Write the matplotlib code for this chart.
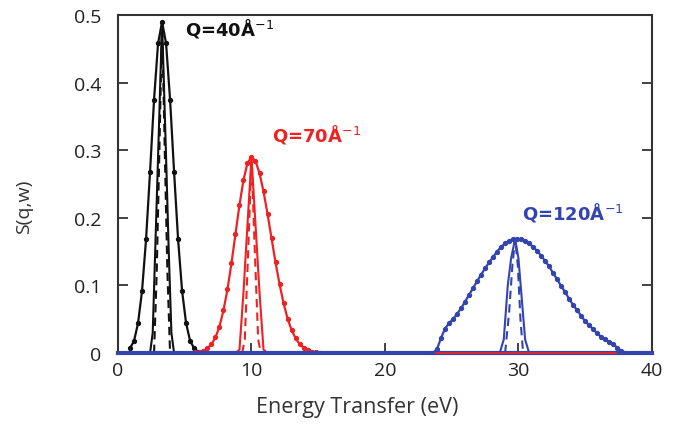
import numpy as np
import matplotlib.pyplot as plt

plt.rcParams.update({
    "font.family": ["Open Sans", "DejaVu Sans"],
    "font.size": 14,
})

BLACK, RED, BLUE = "#111111", "#ee2222", "#3344b0"

# --- Q = 40 A^-1 (black) ---
k_wide_x = [0.9, 1.2, 1.5, 1.8, 2.1, 2.4, 2.7, 3.0, 3.3, 3.6, 3.9, 4.2, 4.5, 4.8, 5.1, 5.4, 5.7, 6.0]
k_wide_y = [0.007, 0.018, 0.044, 0.092, 0.168, 0.268, 0.375, 0.458, 0.490,
            0.458, 0.375, 0.268, 0.168, 0.092, 0.044, 0.018, 0.007, 0.002]
k_narrow_x = [2.4, 2.6, 2.8, 3.0, 3.3, 3.6, 3.8, 4.0, 4.2]
k_narrow_y = [0.0, 0.03, 0.16, 0.29, 0.49, 0.29, 0.15, 0.03, 0.0]
k_dash_x = [2.7, 2.9, 3.1, 3.3, 3.5, 3.7, 3.9]
k_dash_y = [0.0, 0.12, 0.30, 0.49, 0.30, 0.12, 0.0]

# --- Q = 70 A^-1 (red) ---
r_wide_x = [5.8, 6.1, 6.4, 6.7, 7.0, 7.3, 7.6, 7.9, 8.2, 8.5, 8.8, 9.1, 9.4, 9.7, 10.0,
            10.3, 10.6, 10.9, 11.2, 11.5, 11.8, 12.1, 12.4, 12.7, 13.0, 13.3, 13.6,
            13.9, 14.2, 14.5, 14.8, 15.1]
r_wide_y = [0.001, 0.002, 0.003, 0.007, 0.013, 0.023, 0.039, 0.063, 0.094, 0.133,
            0.176, 0.219, 0.256, 0.281, 0.290, 0.284, 0.266, 0.239, 0.206, 0.170,
            0.134, 0.102, 0.074, 0.051, 0.034, 0.022, 0.013, 0.008, 0.004, 0.002,
            0.001, 0.0]
r_narrow_x = [8.8, 9.1, 9.4, 9.7, 10.0, 10.3, 10.6, 10.9, 11.2]
r_narrow_y = [0.0, 0.005, 0.09, 0.19, 0.29, 0.19, 0.09, 0.005, 0.0]
r_dash_x = [9.3, 9.5, 9.75, 10.0, 10.25, 10.5, 10.7]
r_dash_y = [0.0, 0.02, 0.15, 0.29, 0.15, 0.02, 0.0]
r_base_x = [23.8, 37.3]
r_base_y = [0.0, 0.0]

# --- Q = 120 A^-1 (blue) ---
b_wide_x = [23.6, 23.9, 24.2, 24.5, 24.8, 25.1, 25.4, 25.7, 26.0, 26.3, 26.6, 26.9,
            27.2, 27.5, 27.8, 28.1, 28.4, 28.7, 29.0, 29.3, 29.6, 29.9, 30.2, 30.5,
            30.8, 31.1, 31.4, 31.7, 32.0, 32.3, 32.6, 32.9, 33.2, 33.5, 33.8, 34.1,
            34.4, 34.7, 35.0, 35.3, 35.6, 35.9, 36.2, 36.5, 36.8, 37.1, 37.4, 37.7, 38.0]
b_wide_y = [0.0, 0.006, 0.022, 0.036, 0.044, 0.050, 0.058, 0.066, 0.076, 0.086,
            0.096, 0.106, 0.116, 0.125, 0.134, 0.142, 0.150, 0.157, 0.162, 0.166,
            0.168, 0.169, 0.168, 0.166, 0.162, 0.157, 0.151, 0.144, 0.136, 0.128,
            0.118, 0.109, 0.099, 0.090, 0.080, 0.071, 0.063, 0.055, 0.047, 0.041,
            0.035, 0.029, 0.024, 0.020, 0.016, 0.013, 0.008, 0.003, 0.0]
b_narrow_x = [28.6, 28.9, 29.2, 29.45, 29.75, 30.0, 30.25, 30.5, 30.8]
b_narrow_y = [0.0, 0.02, 0.10, 0.14, 0.169, 0.14, 0.08, 0.02, 0.0]
b_dash_x = [29.0, 29.3, 29.55, 29.75, 29.95, 30.15, 30.35]
b_dash_y = [0.0, 0.06, 0.13, 0.169, 0.13, 0.05, 0.0]
b_base_x = [0.0, 40.0]
b_base_y = [0.0, 0.0]

x_ticks = [0, 10, 20, 30, 40]
y_ticks = [0, 0.1, 0.2, 0.3, 0.4, 0.5]
y_ticklabels = ["0", "0.1", "0.2", "0.3", "0.4", "0.5"]

fig = plt.figure(figsize=(6.81, 4.27), dpi=100)
ax = fig.add_axes([0.1733, 0.171, 0.784, 0.7915])

ax.plot(b_base_x, b_base_y, "-", color=BLUE, lw=3, clip_on=False, zorder=5)
ax.plot(r_base_x, r_base_y, "-", color=RED, lw=1.3, clip_on=False, zorder=6)

for col, wx, wy, nx, ny, dx, dy in [
    (BLACK, k_wide_x, k_wide_y, k_narrow_x, k_narrow_y, k_dash_x, k_dash_y),
    (RED, r_wide_x, r_wide_y, r_narrow_x, r_narrow_y, r_dash_x, r_dash_y),
    (BLUE, b_wide_x, b_wide_y, b_narrow_x, b_narrow_y, b_dash_x, b_dash_y),
]:
    ax.plot(wx, wy, "-o", color=col, lw=1.6, ms=2.8)
    ax.plot(nx, ny, "-", color=col, lw=1.5)
    ax.plot(dx, dy, "--", color=col, lw=1.5, dashes=(4, 2.5))

qfont = dict(fontsize=13, fontweight="bold", family="DejaVu Sans", va="center")
ax.text(5.0, 0.482, "Q=40Å$^{-1}$", color=BLACK, **qfont)
ax.text(11.5, 0.324, "Q=70Å$^{-1}$", color=RED, **qfont)
ax.text(30.3, 0.209, "Q=120Å$^{-1}$", color=BLUE, **qfont)

ax.set_xlim(0, 40)
ax.set_ylim(0, 0.5)
ax.set_xticks(x_ticks)
ax.set_yticks(y_ticks)
ax.set_yticklabels(y_ticklabels)
ax.tick_params(direction="in", length=7, width=1.2, right=True, colors="#222222",
               labelsize=14)
ax.tick_params(axis="y", pad=12)
ax.tick_params(axis="x", pad=6)
for s in ax.spines.values():
    s.set_linewidth(1.5)
    s.set_color("#333333")

ax.set_xlabel("Energy Transfer (eV)", fontsize=15.5, color="#333333")
ax.xaxis.set_label_coords(0.448, -0.126)
ax.set_ylabel("S(q,w)", fontsize=14, color="#333333")
ax.yaxis.set_label_coords(-0.159, 0.435)

fig.savefig("out.png", dpi=100)
